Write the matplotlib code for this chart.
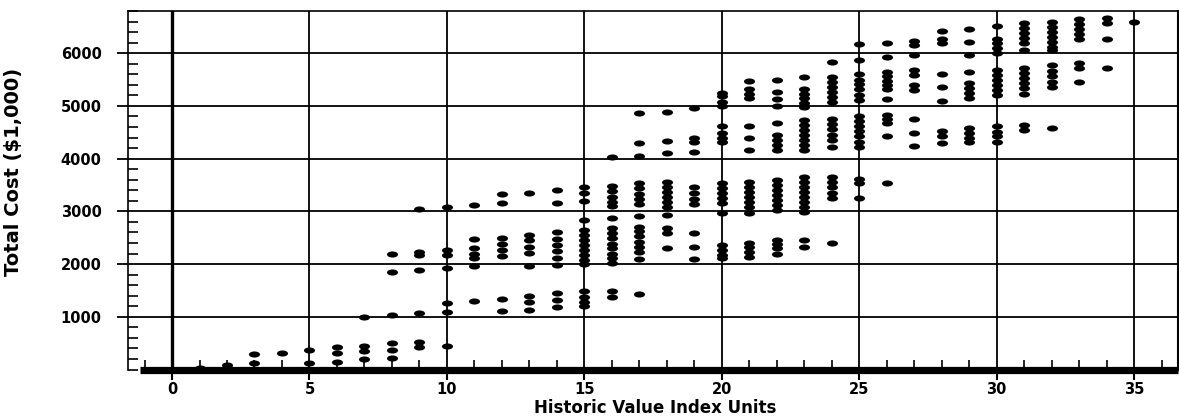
import matplotlib
matplotlib.use("Agg")
import matplotlib.pyplot as plt
from matplotlib.path import Path
from matplotlib.transforms import Affine2D
from matplotlib.ticker import MultipleLocator

# ---- data: Total Cost ($1,000) observed at each Historic Value Index Unit ----
cost_u0 = [0]
cost_u1 = [30]
cost_u2 = [95]
cost_u3 = [125, 290]
cost_u4 = [315]
cost_u5 = [125, 365]
cost_u6 = [150, 310, 420]
cost_u7 = [200, 350, 450, 1000]
cost_u8 = [220, 365, 495, 1030, 1850, 2190]
cost_u9 = [430, 520, 1070, 1880, 2170, 2230, 3050]
cost_u10 = [440, 1100, 1270, 1930, 2180, 2270, 3090]
cost_u11 = [1300, 1960, 2110, 2200, 2300, 2470, 3120]
cost_u12 = [1105, 1335, 2150, 2265, 2390, 2490, 3165, 3330]
cost_u13 = [1125, 1285, 1400, 1960, 2215, 2330, 2455, 2550, 3355]
cost_u14 = [1190, 1315, 1445, 1980, 2110, 2240, 2360, 2480, 2600, 3165, 3405]
cost_u15 = [1200, 1280, 1370, 1480, 2000, 2075, 2170, 2265, 2360, 2455, 2550,
            2645, 2840, 3200, 3340, 3460]
cost_u16 = [1380, 1490, 2025, 2110, 2200, 2300, 2390, 2490, 2580, 2680, 2870,
            3100, 3185, 3280, 3390, 3480, 4040]
cost_u17 = [1425, 2090, 2235, 2330, 2425, 2530, 2625, 2710, 2910, 3140, 3230,
            3330, 3440, 3530, 4050, 4300, 4870]
cost_u18 = [2300, 2580, 2680, 2930, 3090, 3180, 3280, 3370, 3470, 3560, 4100,
            4335, 4890]
cost_u19 = [2090, 2330, 2580, 3135, 3230, 3355, 3455, 4130, 4320, 4400, 4955]
cost_u20 = [2110, 2170, 2270, 2360, 2960, 3150, 3250, 3340, 3440, 3530, 4320,
            4390, 4480, 4620, 4990, 5080, 5180, 5250]
cost_u21 = [2140, 2220, 2315, 2405, 2975, 3090, 3180, 3280, 3370, 3470, 3560,
            4165, 4385, 4620, 5145, 5230, 5320, 5475]
cost_u22 = [2200, 2300, 2380, 2455, 3025, 3120, 3215, 3310, 3405, 3500, 3595,
            4165, 4260, 4355, 4450, 4670, 5000, 5125, 5255, 5495]
cost_u23 = [2330, 2455, 2990, 3090, 3180, 3280, 3375, 3470, 3560, 3660, 4165,
            4260, 4355, 4450, 4545, 4640, 4735, 4975, 5050, 5145, 5230, 5315, 5540]
cost_u24 = [2405, 3250, 3355, 3470, 3560, 3660, 4230, 4355, 4450, 4555, 4660,
            4745, 5065, 5165, 5270, 5365, 5460, 5555, 5840]
cost_u25 = [3250, 3535, 3610, 4230, 4320, 4420, 4520, 4610, 4710, 4805, 5115,
            5215, 5320, 5410, 5500, 5600, 5880, 6165]
cost_u26 = [3545, 4430, 4670, 4750, 4830, 5125, 5320, 5400, 5480, 5570, 5650,
            5925, 6190]
cost_u27 = [4245, 4480, 4750, 5305, 5400, 5590, 5685, 5970, 6160, 6240]
cost_u28 = [4290, 4420, 4530, 5100, 5350, 5610, 6190, 6265, 6430]
cost_u29 = [4320, 4385, 4480, 4575, 5145, 5240, 5335, 5430, 5650, 5970, 6205, 6455]
cost_u30 = [4320, 4420, 4510, 4610, 5210, 5305, 5400, 5495, 5590, 5685, 6000,
            6095, 6190, 6265, 6520]
cost_u31 = [4545, 4640, 5230, 5335, 5430, 5525, 5620, 5715, 6065, 6190, 6285,
            6380, 6475, 6570]
cost_u32 = [4575, 5365, 5460, 5570, 5670, 5780, 6065, 6125, 6220, 6315, 6410,
            6505, 6600]
cost_u33 = [5445, 5715, 5810, 6265, 6370, 6455, 6555, 6645]
cost_u34 = [5715, 6270, 6570, 6665]
cost_u35 = [6590]

index_units = list(range(36))
cost_columns = [cost_u0, cost_u1, cost_u2, cost_u3, cost_u4, cost_u5, cost_u6,
                cost_u7, cost_u8, cost_u9, cost_u10, cost_u11, cost_u12, cost_u13,
                cost_u14, cost_u15, cost_u16, cost_u17, cost_u18, cost_u19,
                cost_u20, cost_u21, cost_u22, cost_u23, cost_u24, cost_u25,
                cost_u26, cost_u27, cost_u28, cost_u29, cost_u30, cost_u31,
                cost_u32, cost_u33, cost_u34, cost_u35]

x_ticks = [0, 5, 10, 15, 20, 25, 30, 35]
y_ticks = [1000, 2000, 3000, 4000, 5000, 6000]
x_label = "Historic Value Index Units"
y_label = "Total Cost ($1,000)"

xs, ys = [], []
for u, col in zip(index_units, cost_columns):
    for c in col:
        xs.append(u)
        ys.append(c)

# ---- figure ----
fig = plt.figure(figsize=(11.79, 4.19), dpi=100)
ax = fig.add_axes([0.1086, 0.1181, 0.8906, 0.8556])
ax.set_xlim(-1.6, 36.6)
ax.set_ylim(0, 6800)

# grid
for v in y_ticks:
    ax.axhline(v, color="black", lw=1.3, zorder=1)
for v in x_ticks:
    ax.axvline(v, color="black", lw=2.4 if v == 0 else 1.3, zorder=1)

# elliptical dots
ell = Path.unit_circle().transformed(Affine2D().scale(1.0, 0.55))
ax.scatter(xs, ys, marker=ell, s=64, c="black", linewidths=0, zorder=4)

# thick baseline
ax.plot([-1.15, 36.6], [0, 0], color="black", lw=5.2,
        solid_capstyle="butt", clip_on=False, zorder=6)

# spines
ax.spines["bottom"].set_visible(False)
ax.spines["left"].set_linewidth(1.2)
ax.spines["top"].set_linewidth(1.2)
ax.spines["right"].set_linewidth(1.5)

# ticks
ax.set_xticks(x_ticks)
ax.set_xticklabels([str(t) for t in x_ticks])
ax.set_yticks(y_ticks)
ax.set_yticklabels([str(t) for t in y_ticks])
ax.xaxis.set_minor_locator(MultipleLocator(1))
ax.yaxis.set_minor_locator(MultipleLocator(200))
ax.tick_params(axis="x", which="major", direction="out", length=7, width=1.5,
               pad=2, labelsize=10.5)
ax.tick_params(axis="x", which="minor", direction="in", length=7.5, width=1.2)
ax.tick_params(axis="y", which="major", direction="out", length=8, width=1.3,
               pad=11, labelsize=10.5)
ax.tick_params(axis="y", which="minor", direction="in", length=7, width=1.2)
for lab in ax.get_xticklabels() + ax.get_yticklabels():
    lab.set_fontweight("bold")

ax.set_xlabel(x_label, fontsize=12, fontweight="bold")
ax.xaxis.set_label_coords(0.502, -0.082)
ax.set_ylabel(y_label, fontsize=14, fontweight="bold")
ax.yaxis.set_label_coords(-0.1, 0.55)

fig.savefig("out.png", dpi=100)
